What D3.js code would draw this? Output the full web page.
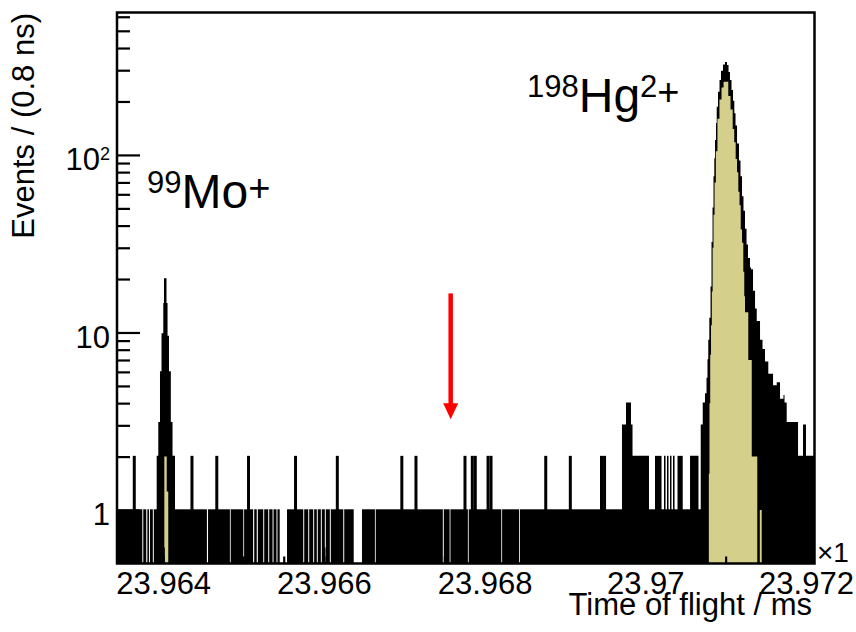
<!DOCTYPE html>
<html>
<head>
<meta charset="utf-8">
<script src="https://cdn.jsdelivr.net/npm/d3@7"></script>
<style>
  html, body { margin: 0; padding: 0; background: #fff; }
  svg { display: block; font-family: "Liberation Sans", Arial, Helvetica, sans-serif; }
</style>
</head>
<body>
<svg id="chart" width="856" height="632"></svg>
<script>
// ---- axis ranges and tick labels ----
const tofRange = [23.963425, 23.972106];     // time of flight, ms
const countRange = [0.5, 634];               // events per 0.8 ns bin (log)
const xTickValues = [23.964, 23.966, 23.968, 23.970, 23.972];
const xTickLabels = ["23.964", "23.966", "23.968", "23.97", "23.972"];
const yTickValues = [1, 10, 100];
const yTickLabels = [["1", ""], ["10", ""], ["10", "2"]];
const yMinorValues = [0.6, 0.7, 0.8, 0.9, 2, 3, 4, 5, 6, 7, 8, 9,
                      20, 30, 40, 50, 60, 70, 80, 90, 200, 300, 400, 500, 600];

// ---- single-count background: stretches (ms) with no events ----
const quietGaps = [
  [23.963740, 23.963752], [23.963789, 23.963803], [23.963823, 23.963835],
  [23.963871, 23.963883], [23.964544, 23.964558], [23.964830, 23.964840],
  [23.964997, 23.965007], [23.965119, 23.965133], [23.965164, 23.965178],
  [23.965245, 23.965257], [23.965307, 23.965319], [23.965361, 23.965373],
  [23.965410, 23.965422], [23.965450, 23.965541], [23.965743, 23.965755],
  [23.965805, 23.965817], [23.965867, 23.965879], [23.965912, 23.965924],
  [23.965962, 23.965974], [23.966012, 23.966024], [23.966074, 23.966086],
  [23.966241, 23.966253], [23.966371, 23.966474], [23.966635, 23.966645],
  [23.967480, 23.967492], [23.967565, 23.967575], [23.967792, 23.967802],
  [23.968208, 23.968218], [23.968430, 23.968440]
];

// ---- isolated bins holding 2 events (ms) ----
const doubleBins = [
  23.963640, 23.964358, 23.964667, 23.965062, 23.965647, 23.966167,
  23.966970, 23.967146, 23.967756, 23.967847, 23.967884, 23.968043,
  23.968080, 23.968761, 23.969067, 23.969455, 23.969493
];

// ---- 99Mo+ peak: [start ms, end ms, events] ----
const moPeak = [
  [23.963919, 23.963939, 2], [23.963939, 23.963960, 3.1], [23.963960, 23.963979, 6],
  [23.963979, 23.964001, 9.8], [23.964001, 23.964010, 14.5], [23.964010, 23.964041, 20],
  [23.964041, 23.964054, 14.5], [23.964054, 23.964072, 9.5], [23.964072, 23.964095, 6],
  [23.964095, 23.964116, 3.1], [23.964116, 23.964147, 2]
];
const moGate = [
  [23.964014, 23.964044, 2], [23.964044, 23.964063, 1.27]
];

// ---- 198Hg2+ region incl. the small group before it: [start ms, end ms, events] ----
const hgPeak = [
  [23.969710, 23.969760, 3], [23.969760, 23.969822, 4], [23.969822, 23.969841, 3],
  [23.969841, 23.970046, 2], [23.970121, 23.970202, 2], [23.970233, 23.970252, 2],
  [23.970270, 23.970289, 2], [23.970308, 23.970326, 2], [23.970345, 23.970364, 2],
  [23.970401, 23.970466, 2], [23.970557, 23.970662, 2], [23.970690, 23.970715, 3],
  [23.970715, 23.970743, 4], [23.970743, 23.970762, 4.5], [23.970762, 23.970774, 5.5],
  [23.970774, 23.970784, 7], [23.970784, 23.970797, 9], [23.970797, 23.970812, 12],
  [23.970812, 23.970824, 18], [23.970824, 23.970837, 32], [23.970837, 23.970849, 50],
  [23.970849, 23.970859, 75], [23.970859, 23.970868, 95], [23.970868, 23.970880, 120],
  [23.970880, 23.970889, 150], [23.970889, 23.970905, 185], [23.970905, 23.970924, 225],
  [23.970924, 23.970942, 262], [23.970942, 23.970967, 295], [23.970967, 23.970992, 320],
  [23.970992, 23.971017, 330], [23.971017, 23.971036, 318], [23.971036, 23.971054, 290],
  [23.971054, 23.971073, 262], [23.971073, 23.971092, 230], [23.971092, 23.971108, 200],
  [23.971108, 23.971123, 170], [23.971123, 23.971142, 145], [23.971142, 23.971166, 115],
  [23.971166, 23.971185, 92], [23.971185, 23.971204, 75], [23.971204, 23.971222, 58],
  [23.971222, 23.971241, 48], [23.971241, 23.971260, 38], [23.971260, 23.971278, 31],
  [23.971278, 23.971303, 26], [23.971303, 23.971316, 23], [23.971316, 23.971341, 22.5],
  [23.971341, 23.971366, 17], [23.971366, 23.971387, 13.5], [23.971387, 23.971428, 11.5],
  [23.971428, 23.971459, 9], [23.971459, 23.971490, 8], [23.971490, 23.971531, 6.8],
  [23.971531, 23.971590, 5.8], [23.971590, 23.971636, 5], [23.971636, 23.971677, 5.2],
  [23.971677, 23.971720, 4.2], [23.971720, 23.971733, 4.4], [23.971733, 23.971760, 4],
  [23.971760, 23.971901, 3.1], [23.971901, 23.971963, 2], [23.971963, 23.972000, 3],
  [23.972000, 23.972106, 2]
];
// gated (selected) events of the Hg peak, drawn filled
const hgGate = [
  [23.970791, 23.970799, 1.6], [23.970799, 23.970808, 4], [23.970808, 23.970818, 7.5],
  [23.970818, 23.970828, 11], [23.970828, 23.970838, 17], [23.970838, 23.970849, 30],
  [23.970849, 23.970862, 46], [23.970862, 23.970878, 70], [23.970878, 23.970898, 105],
  [23.970898, 23.970923, 160], [23.970923, 23.970949, 205], [23.970949, 23.970974, 240],
  [23.970974, 23.971033, 258], [23.971033, 23.971061, 215], [23.971061, 23.971088, 180],
  [23.971088, 23.971107, 140], [23.971107, 23.971125, 118], [23.971125, 23.971142, 95],
  [23.971142, 23.971158, 80], [23.971158, 23.971173, 62], [23.971173, 23.971188, 52],
  [23.971188, 23.971204, 38], [23.971204, 23.971220, 32], [23.971220, 23.971232, 22],
  [23.971232, 23.971241, 16], [23.971241, 23.971282, 13], [23.971282, 23.971325, 7],
  [23.971325, 23.971394, 2], [23.971425, 23.971449, 1]
];

// marker arrow at the expected position
const arrowMark = { t: 23.967578, from: 16.6, to: 3.25 };

// ---- layout ----
const frame = { left: 117, right: 814.5, top: 12.5, bottom: 563.5 };
const gateColor = "#d4cf8a";
const ink = "#000";

const x = d3.scaleLinear().domain(tofRange).range([frame.left, frame.right]);
const y = d3.scaleLog().domain(countRange).range([frame.bottom, frame.top]);
const yFloor = y(countRange[0]);
const edge = 0.75; // half of the histogram line width

const svg = d3.select("#chart");
const hist = svg.append("g");

// background of single counts: everything outside the quiet stretches
const occupied = [];
let cursor = tofRange[0];
quietGaps.slice().sort((a, b) => a[0] - b[0]).forEach(([a, b]) => {
  if (a > cursor) occupied.push([cursor, a]);
  cursor = Math.max(cursor, b);
});
if (cursor < tofRange[1]) occupied.push([cursor, tofRange[1]]);

hist.selectAll("rect.single").data(occupied).join("rect")
  .attr("class", "single")
  .attr("x", d => x(d[0]))
  .attr("width", d => Math.max(0, x(d[1]) - x(d[0])))
  .attr("y", y(1) - edge)
  .attr("height", yFloor - y(1) + edge)
  .attr("fill", ink);

// isolated 2-event bins
hist.selectAll("line.double").data(doubleBins).join("line")
  .attr("class", "double")
  .attr("x1", d => x(d)).attr("x2", d => x(d))
  .attr("y1", y(1)).attr("y2", y(2) - edge)
  .attr("stroke", ink).attr("stroke-width", 3);

// step histograms: contiguous bins are joined into one filled outline
function contiguousRuns(steps) {
  const runs = [];
  steps.forEach(s => {
    const last = runs[runs.length - 1];
    if (last && Math.abs(last[last.length - 1][1] - s[0]) < 1e-9) last.push(s);
    else runs.push([s]);
  });
  return runs.map(run => run.map(s => [s[0], s[2]]).concat([[run[run.length - 1][1], run[run.length - 1][2]]]));
}
function drawSteps(cls, steps, fill, top) {
  const area = d3.area()
    .x(d => x(d[0]))
    .y0(yFloor)
    .y1(d => y(d[1]) - top)
    .curve(d3.curveStepAfter);
  hist.selectAll("path." + cls).data(contiguousRuns(steps)).join("path")
    .attr("class", cls)
    .attr("d", area)
    .attr("fill", fill);
}
drawSteps("mo", moPeak, ink, edge);
drawSteps("hg", hgPeak, ink, edge);
drawSteps("mogate", moGate, gateColor, 0);
drawSteps("hggate", hgGate, gateColor, 0);

// frame
svg.append("rect")
  .attr("x", frame.left).attr("y", frame.top)
  .attr("width", frame.right - frame.left)
  .attr("height", frame.bottom - frame.top)
  .attr("fill", "none").attr("stroke", ink).attr("stroke-width", 2.5);

// x axis (ticks point into the frame)
const xMinor = d3.range(47927, 47945).map(i => i * 0.0005);
const gxMinor = svg.append("g")
  .attr("transform", `translate(0,${frame.bottom})`)
  .call(d3.axisBottom(x).tickValues(xMinor).tickSize(-7).tickFormat(""));
const gx = svg.append("g")
  .attr("transform", `translate(0,${frame.bottom})`)
  .call(d3.axisBottom(x).tickValues(xTickValues).tickSize(-16).tickPadding(8)
    .tickFormat((d, i) => xTickLabels[i]));

// y axis
const gyMinor = svg.append("g")
  .attr("transform", `translate(${frame.left},0)`)
  .call(d3.axisLeft(y).tickValues(yMinorValues).tickSize(-13).tickFormat(""));
const gy = svg.append("g")
  .attr("transform", `translate(${frame.left},0)`)
  .call(d3.axisLeft(y).tickValues(yTickValues).tickSize(-23).tickPadding(7).tickFormat(""));

[gxMinor, gx, gyMinor, gy].forEach(g => {
  g.select(".domain").remove();
  g.selectAll(".tick line").attr("stroke", ink).attr("stroke-width", 2.2);
  g.attr("font-family", null).attr("font-size", null);
});

gx.selectAll(".tick text").attr("font-size", 31).attr("fill", ink);

gy.selectAll(".tick text").each(function (d, i) {
  const t = d3.select(this);
  const [base, exp] = yTickLabels[i];
  t.text(null).attr("font-size", 31).attr("fill", ink).attr("dy", "0.47em");
  t.append("tspan").text(base);
  if (exp) t.append("tspan").attr("font-size", 18).attr("dy", -10).text(exp);
});

// axis titles
svg.append("text")
  .attr("x", 812).attr("y", 615)
  .attr("text-anchor", "end").attr("font-size", 31).attr("fill", ink)
  .text("Time of flight / ms");

svg.append("text")
  .attr("transform", "translate(34,13) rotate(-90)")
  .attr("text-anchor", "end").attr("font-size", 31).attr("fill", ink)
  .text("Events / (0.8 ns)");

svg.append("text")
  .attr("x", 817).attr("y", 562)
  .attr("font-size", 28).attr("fill", ink)
  .text("×1");

// peak labels
function ionLabel(xPos, baseline, mass, symbol, charge) {
  const t = svg.append("text").attr("x", xPos).attr("y", baseline).attr("fill", ink);
  t.append("tspan").attr("font-size", 31).attr("dy", -15).text(mass);
  t.append("tspan").attr("font-size", 48).attr("dy", 15).text(symbol);
  if (charge.length > 1) {
    t.append("tspan").attr("font-size", 31).attr("dy", -15).text(charge.slice(0, -1));
    t.append("tspan").attr("font-size", 38).attr("dy", 8).text("+");
  } else {
    t.append("tspan").attr("font-size", 38).attr("dy", -7).text("+");
  }
}
ionLabel(147, 208.3, "99", "Mo", "+");
ionLabel(527, 111.7, "198", "Hg", "2+");

// red marker arrow
const ax = x(arrowMark.t);
const yTip = y(arrowMark.to);
svg.append("line")
  .attr("x1", ax).attr("x2", ax)
  .attr("y1", y(arrowMark.from)).attr("y2", yTip - 12)
  .attr("stroke", "#ff0000").attr("stroke-width", 4.5);
svg.append("path")
  .attr("d", `M${ax - 7.5},${yTip - 16} L${ax + 7.5},${yTip - 16} L${ax},${yTip} Z`)
  .attr("fill", "#ff0000");
</script>
</body>
</html>
